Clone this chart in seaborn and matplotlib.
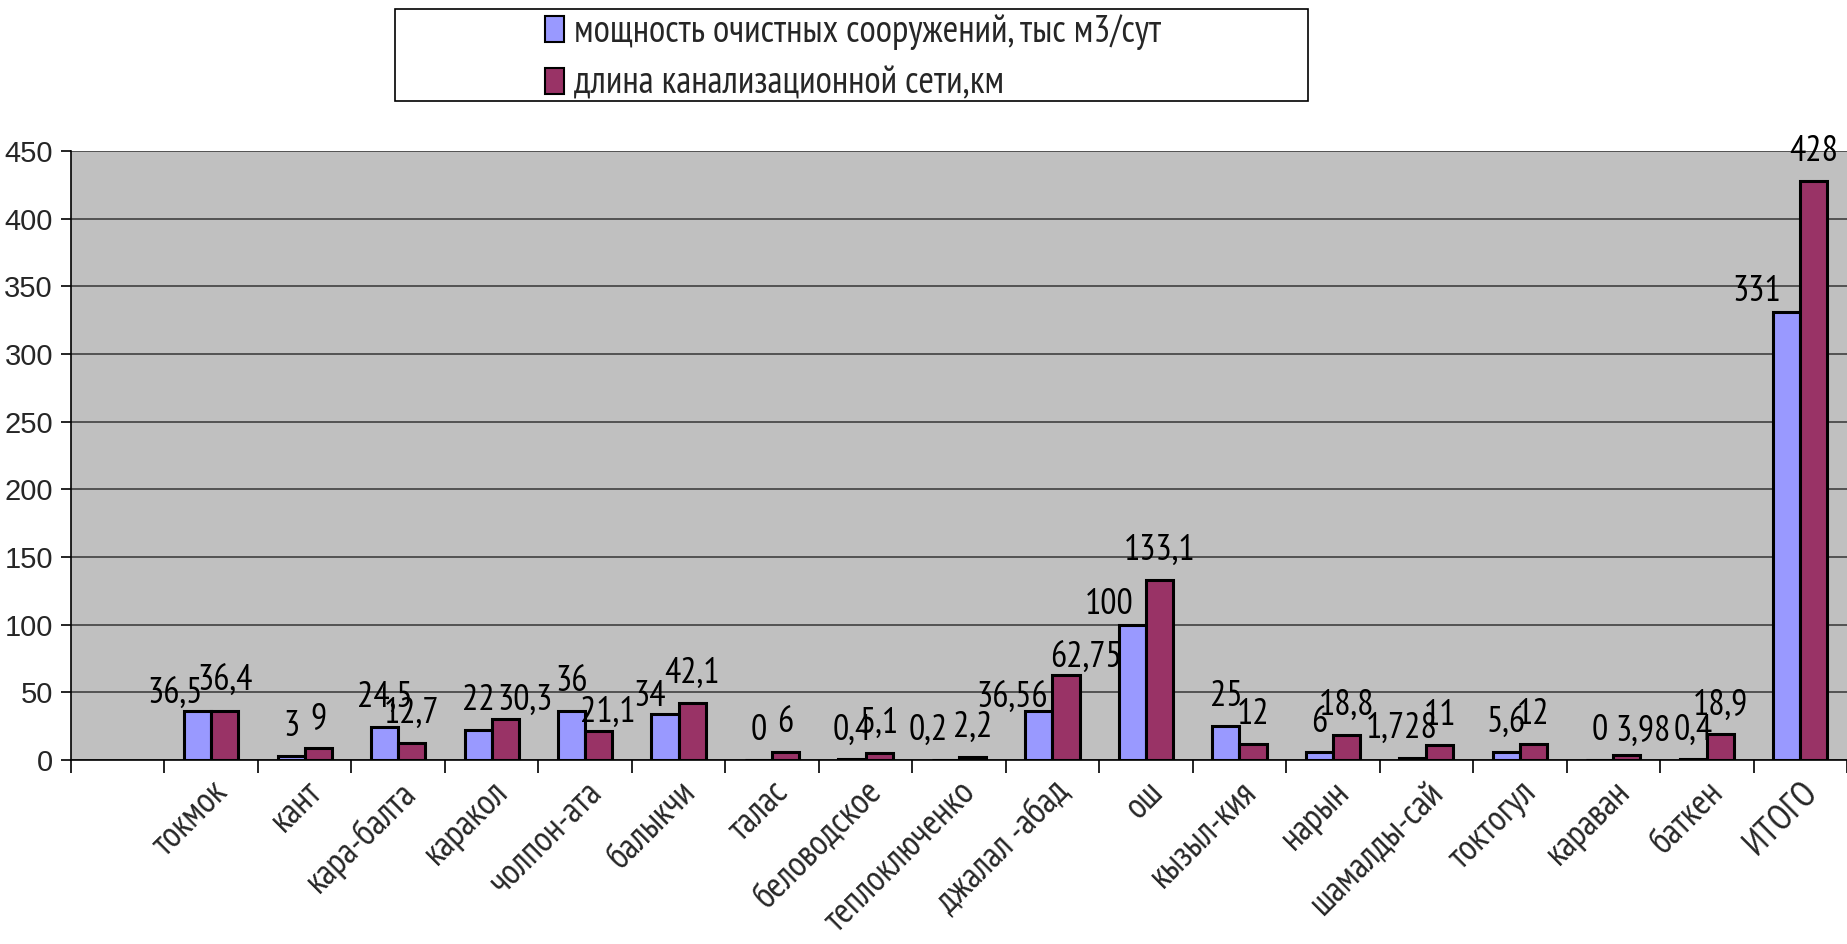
"""Grouped bar chart: treatment plant capacity vs. sewer network length by town."""

import matplotlib.pyplot as plt
import pandas as pd
import seaborn as sns
from matplotlib import font_manager
from matplotlib.patches import Rectangle
from matplotlib.ticker import FixedLocator

towns = [
    "токмок", "кант", "кара-балта", "каракол", "чолпон-ата", "балыкчи",
    "талас", "беловодское", "теплоключенко", "джалал -абад", "ош",
    "кызыл-кия", "нарын", "шамалды-сай", "токтогул", "караван", "баткен",
    "ИТОГО",
]
capacity = [36.5, 3, 24.5, 22, 36, 34, 0, 0.4, 0.2, 36.56, 100, 25, 6,
            1.728, 5.6, 0, 0.4, 331]
network = [36.4, 9, 12.7, 30.3, 21.1, 42.1, 6, 5.1, 2.2, 62.75, 133.1, 12,
           18.8, 11, 12, 3.98, 18.9, 428]
series_names = ["мощность очистных сооружений, тыс м3/сут",
                "длина канализационной сети,км"]
yticks = [0, 50, 100, 150, 200, 250, 300, 350, 400, 450]
colors = ["#9999FF", "#993366"]

sns.set_theme(style="white")
plt.rcParams["font.family"] = ["Liberation Sans", "DejaVu Sans"]

# the source uses Arial Narrow for labels; take the closest narrow face we have
installed = {f.name for f in font_manager.fontManager.ttflist}
narrow_face = next((n for n in ["Liberation Sans Narrow", "Arial Narrow",
                                "PT Sans Narrow", "Roboto Condensed",
                                "Open Sans Condensed"] if n in installed),
                   "Liberation Sans")
narrow = [narrow_face, "Liberation Sans", "DejaVu Sans"]

df = pd.DataFrame({
    "town": towns * 2,
    "series": [series_names[0]] * len(towns) + [series_names[1]] * len(towns),
    "value": capacity + network,
})
order = [""] + towns  # empty first slot, as in the source chart

fig = plt.figure(figsize=(18.47, 9.44), dpi=100)
ax = fig.add_axes([71 / 1847, 1 - 760 / 944, 1 - 71 / 1847, 609 / 944])
ax.set_facecolor("#C0C0C0")

sns.barplot(
    data=df, x="town", y="value", hue="series", order=order,
    hue_order=series_names, palette=colors,
    width=0.58, edgecolor="black", linewidth=2.2, saturation=1,
    errorbar=None, legend=False, ax=ax, zorder=3,
)

ax.set_ylim(0, 450)
ax.set_xlim(-0.5, len(order) - 0.5)
ax.set_yticks(yticks)
ax.yaxis.grid(True, color="#404040", linewidth=1.2, zorder=0)
ax.set_axisbelow(True)
ax.tick_params(axis="y", labelsize=21, length=7, width=1.2, color="black",
               direction="out", left=True, pad=6)

# category labels at centres, tick marks on the slot boundaries
ax.set_xticks(range(len(order)))
ax.set_xticklabels(order, rotation=45, ha="right", rotation_mode="anchor",
                   fontsize=26, family=narrow)
ax.tick_params(axis="x", which="major", length=0, pad=11)
ax.xaxis.set_minor_locator(FixedLocator([i - 0.5 for i in range(len(order) + 1)]))
ax.tick_params(axis="x", which="minor", length=9, width=1.2, color="black",
               direction="out", bottom=True)
ax.set_xlabel("")
ax.set_ylabel("")

for side in ["top", "right"]:
    ax.spines[side].set_visible(False)
for side in ["left", "bottom"]:
    ax.spines[side].set_color("black")
    ax.spines[side].set_linewidth(1.2)

# data labels; several were dragged by hand in the source (offsets in pixels)
nudge_px = [
    {0: (-23, -13), 5: (-15, -12), 8: (-17, 0), 9: (-27, -17), 10: (-23, -9),
     13: (-11, 0), 17: (-30, -9)},
    {3: (20, -11), 4: (9, -10), 9: (20, -13), 15: (16, -6)},
]
px = 72 / fig.dpi
for k, (container, values) in enumerate(zip(ax.containers, [capacity, network])):
    for i, (bar, v) in enumerate(zip(container, values)):
        dx, dy = nudge_px[k].get(i, (0, 0))
        ax.annotate(
            f"{v:g}".replace(".", ","),
            (bar.get_x() + bar.get_width() / 2, bar.get_height()),
            xytext=(dx * px, (20 + dy) * px), textcoords="offset points",
            ha="center", va="baseline", fontsize=26, family=narrow,
            color="black", zorder=5,
        )

# legend in a wide framed box at the top
fig.patches.append(Rectangle((395 / 1847, 1 - 101 / 944), 913 / 1847, 92 / 944,
                             transform=fig.transFigure, facecolor="white",
                             edgecolor="black", linewidth=1.2, zorder=0))
handles = [Rectangle((0, 0), 1, 1, facecolor=c, edgecolor="black", linewidth=1.5)
           for c in colors]
fig.legend(handles, series_names, loc="center",
           bbox_to_anchor=(853 / 1847, 1 - 58 / 944), frameon=False,
           prop={"family": narrow, "size": 27},
           handlelength=0.5, handleheight=0.7, handletextpad=0.25,
           labelspacing=0.45, borderpad=0)

fig.savefig("out.png", dpi=100)
